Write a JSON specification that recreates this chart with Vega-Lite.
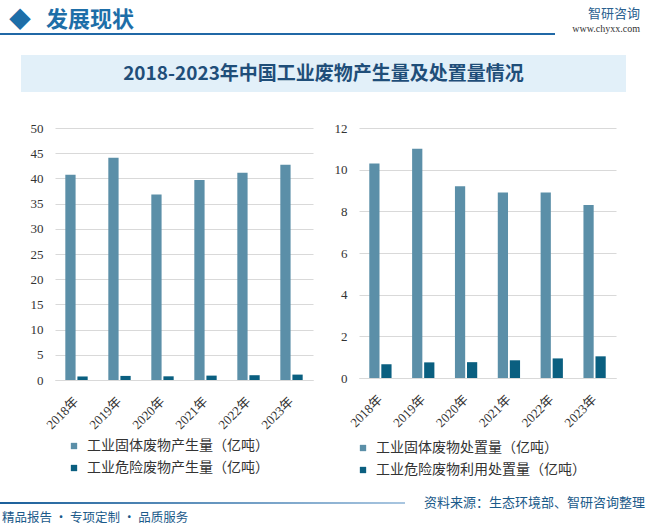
{
  "$schema": "https://vega.github.io/schema/vega-lite/v6.json",
  "background": "white",
  "padding": {"top": 8, "left": 0, "right": 0, "bottom": 0},
  "autosize": {"type": "pad"},
  "config": {
    "view": {"stroke": null},
    "font": "Noto Sans CJK SC",
    "title": {"font": "Noto Sans CJK SC"},
    "axis": {
      "labelFont": "Liberation Serif, Noto Sans CJK SC",
      "labelFontSize": 13,
      "labelColor": "#333333",
      "title": null
    },
    "legend": {
      "title": null,
      "orient": "none",
      "direction": "vertical",
      "symbolType": "square",
      "symbolSize": 40,
      "symbolStrokeWidth": 0,
      "labelFont": "Noto Sans CJK SC",
      "labelFontSize": 14,
      "labelColor": "#333333",
      "rowPadding": 8,
      "labelOffset": 6,
      "padding": 0,
      "labelLimit": 400
    }
  },
  "datasets": {
    "production": [
      {"year": "2018年", "series": "工业固体废物产生量（亿吨）", "value": 40.7},
      {"year": "2019年", "series": "工业固体废物产生量（亿吨）", "value": 44.1},
      {"year": "2020年", "series": "工业固体废物产生量（亿吨）", "value": 36.8},
      {"year": "2021年", "series": "工业固体废物产生量（亿吨）", "value": 39.7},
      {"year": "2022年", "series": "工业固体废物产生量（亿吨）", "value": 41.1},
      {"year": "2023年", "series": "工业固体废物产生量（亿吨）", "value": 42.7},
      {"year": "2018年", "series": "工业危险废物产生量（亿吨）", "value": 0.7},
      {"year": "2019年", "series": "工业危险废物产生量（亿吨）", "value": 0.81},
      {"year": "2020年", "series": "工业危险废物产生量（亿吨）", "value": 0.73},
      {"year": "2021年", "series": "工业危险废物产生量（亿吨）", "value": 0.87},
      {"year": "2022年", "series": "工业危险废物产生量（亿吨）", "value": 0.95},
      {"year": "2023年", "series": "工业危险废物产生量（亿吨）", "value": 1.07}
    ],
    "disposal": [
      {"year": "2018年", "series": "工业固体废物处置量（亿吨）", "value": 10.3},
      {"year": "2019年", "series": "工业固体废物处置量（亿吨）", "value": 11.0},
      {"year": "2020年", "series": "工业固体废物处置量（亿吨）", "value": 9.2},
      {"year": "2021年", "series": "工业固体废物处置量（亿吨）", "value": 8.9},
      {"year": "2022年", "series": "工业固体废物处置量（亿吨）", "value": 8.9},
      {"year": "2023年", "series": "工业固体废物处置量（亿吨）", "value": 8.3},
      {"year": "2018年", "series": "工业危险废物利用处置量（亿吨）", "value": 0.66},
      {"year": "2019年", "series": "工业危险废物利用处置量（亿吨）", "value": 0.75},
      {"year": "2020年", "series": "工业危险废物利用处置量（亿吨）", "value": 0.76},
      {"year": "2021年", "series": "工业危险废物利用处置量（亿吨）", "value": 0.85},
      {"year": "2022年", "series": "工业危险废物利用处置量（亿吨）", "value": 0.94},
      {"year": "2023年", "series": "工业危险废物利用处置量（亿吨）", "value": 1.04}
    ]
  },
  "spacing": 20,
  "center": true,
  "vconcat": [
    {
      "spacing": 0,
      "hconcat": [
        {
          "width": 555,
          "height": 2,
          "view": {"fill": "#2068a6", "stroke": null},
          "title": {"text": "◆\u00a0\u00a0\u00a0发展现状", "anchor": "start", "fontSize": 22, "fontWeight": "bold", "color": "#1d6ea8", "offset": 1, "dx": 9},
          "data": {"values": []},
          "mark": "point"
        },
        {
          "width": 92,
          "height": 1,
          "title": {"text": "智研咨询", "subtitle": "www.chyxx.com", "anchor": "end", "fontSize": 13, "fontWeight": "normal", "color": "#2a5f8f", "subtitleColor": "#333333", "subtitleFont": "Liberation Serif", "subtitleFontSize": 10, "subtitlePadding": 3, "offset": -1, "dx": -7},
          "data": {"values": []},
          "mark": "point"
        }
      ]
    },
    {
      "spacing": 30,
      "center": true,
      "vconcat": [
        {
          "width": 605,
          "height": 37,
          "view": {"fill": "#e2f0f9", "stroke": null},
          "data": {"values": [{"title": "2018-2023年中国工业废物产生量及处置量情况"}]},
          "mark": {"type": "text", "fontSize": 19, "fontWeight": "bold", "color": "#1f4e79", "font": "Noto Sans CJK SC"},
          "encoding": {"text": {"field": "title", "type": "nominal"}}
        },
        {
          "spacing": 0,
          "bounds": "flush",
          "hconcat": [
            {
              "width": 24,
              "height": 1,
              "data": {"values": []},
              "mark": "point"
            },
            {
              "spacing": 46,
              "bounds": "flush",
              "resolve": {"scale": {"color": "independent", "y": "independent", "x": "independent", "xOffset": "independent"}, "legend": {"color": "independent"}},
              "hconcat": [
                {
                  "width": 258,
                  "height": 252,
                  "data": {"name": "production"},
                  "mark": {"type": "bar"},
                  "encoding": {
                    "x": {"field": "year", "type": "nominal", "scale": {"paddingInner": 0.48, "paddingOuter": 0.24},
                      "axis": {"labelAngle": -45, "labelAlign": "right", "labelBaseline": "middle", "labelPadding": 19, "ticks": false, "domainColor": "#d9d9d9", "grid": false}},
                    "xOffset": {"field": "series", "type": "nominal", "sort": ["工业固体废物产生量（亿吨）", "工业危险废物产生量（亿吨）"], "scale": {"paddingInner": 0.15}},
                    "y": {"field": "value", "type": "quantitative", "scale": {"domain": [0, 50]},
                      "axis": {"values": [0, 5, 10, 15, 20, 25, 30, 35, 40, 45, 50], "ticks": false, "domain": false, "gridColor": "#d9d9d9", "labelPadding": 12}},
                    "color": {"field": "series", "type": "nominal", "sort": ["工业固体废物产生量（亿吨）", "工业危险废物产生量（亿吨）"],
                      "scale": {"domain": ["工业固体废物产生量（亿吨）", "工业危险废物产生量（亿吨）"], "range": ["#5b8fa8", "#0a5f80"]},
                      "legend": {"legendX": 12, "legendY": 311}}
                  }
                },
                {
                  "width": 257,
                  "height": 250,
                  "data": {"name": "disposal"},
                  "mark": {"type": "bar"},
                  "encoding": {
                    "x": {"field": "year", "type": "nominal", "scale": {"paddingInner": 0.48, "paddingOuter": 0.24},
                      "axis": {"labelAngle": -45, "labelAlign": "right", "labelBaseline": "middle", "labelPadding": 19, "ticks": false, "domainColor": "#d9d9d9", "grid": false}},
                    "xOffset": {"field": "series", "type": "nominal", "sort": ["工业固体废物处置量（亿吨）", "工业危险废物利用处置量（亿吨）"], "scale": {"paddingInner": 0.15}},
                    "y": {"field": "value", "type": "quantitative", "scale": {"domain": [0, 12]},
                      "axis": {"values": [0, 2, 4, 6, 8, 10, 12], "ticks": false, "domain": false, "gridColor": "#d9d9d9", "labelPadding": 12}},
                    "color": {"field": "series", "type": "nominal", "sort": ["工业固体废物处置量（亿吨）", "工业危险废物利用处置量（亿吨）"],
                      "scale": {"domain": ["工业固体废物处置量（亿吨）", "工业危险废物利用处置量（亿吨）"], "range": ["#5b8fa8", "#0a5f80"]},
                      "legend": {"legendX": -3, "legendY": 313}}
                  }
                }
              ]
            }
          ]
        }
      ]
    },
    {
      "spacing": 0,
      "bounds": "flush",
      "hconcat": [
        {
          "width": 405,
          "height": 2,
          "view": {"fill": {"gradient": "linear", "x1": 0, "x2": 1, "y1": 0, "y2": 0, "stops": [{"offset": 0, "color": "#1a5f9a"}, {"offset": 1, "color": "#a9c6e0"}]}, "stroke": null},
          "title": {"text": "精品报告 · 专项定制 · 品质服务", "orient": "bottom", "anchor": "start", "fontSize": 12.5, "fontWeight": "normal", "color": "#1a5a8a", "offset": 8, "dx": 2},
          "data": {"values": []},
          "mark": "point"
        },
        {
          "width": 242,
          "height": 2,
          "title": {"text": "资料来源：生态环境部、智研咨询整理", "orient": "bottom", "anchor": "end", "fontSize": 13, "fontWeight": "normal", "color": "#1a5a8a", "offset": -7, "dx": -2},
          "data": {"values": []},
          "mark": "point"
        }
      ]
    }
  ]
}
